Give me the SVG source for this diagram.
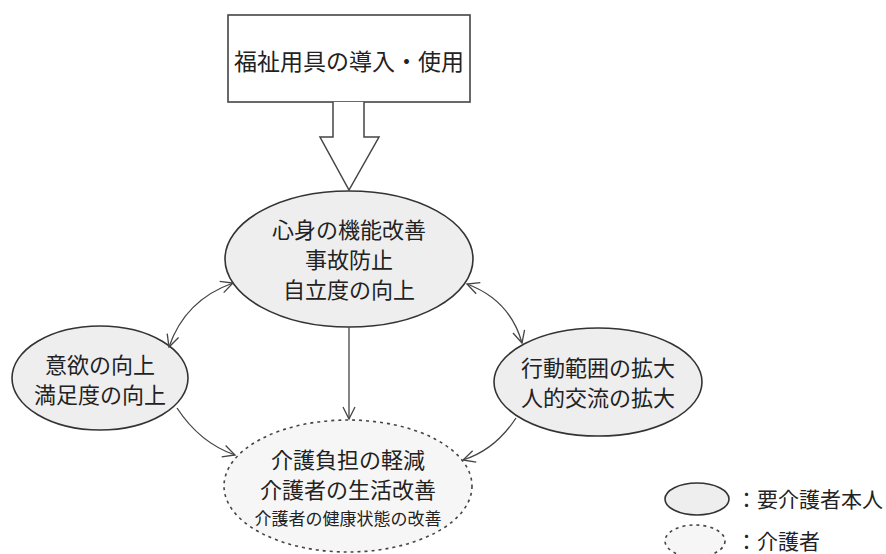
<svg xmlns="http://www.w3.org/2000/svg" width="886" height="554" viewBox="0 0 886 554">
<style>
text{font-family:"Noto Sans CJK JP","Noto Sans CJK SC",sans-serif;fill:#222;text-anchor:middle;}
.t{font-size:22px;}
.s{font-size:17px;}
.l{font-size:21px;text-anchor:end;}
.solid{fill:#eeeeee;stroke:#333;stroke-width:1.6;}
.dash{fill:#f6f6f6;stroke:#444;stroke-width:1.6;stroke-dasharray:3 4;}
.c{fill:none;stroke:#444;stroke-width:1.3;}
</style>
<defs>
<marker id="a" viewBox="0 0 14 14" refX="13" refY="7" markerWidth="14" markerHeight="14" markerUnits="userSpaceOnUse" orient="auto-start-reverse">
<path d="M1,1 L13,7 L1,13" fill="none" stroke="#444" stroke-width="1.3"/>
</marker>
</defs>
<g id="source">
<rect x="228" y="15" width="242" height="87" fill="#fff" stroke="#444" stroke-width="1.6"/>
<text class="t" x="349" y="70" style="font-size:23px">福祉用具の導入・使用</text>
</g>
<g id="bigarrow">
<path d="M333,102 L333,137 L320,137 L349,190 L379,137 L364,137 L364,102" fill="#fff" stroke="#444" stroke-width="1.5"/>
</g>
<g id="center">
<ellipse class="solid" cx="349" cy="259" rx="124" ry="68"/>
<text class="t" x="349" y="238">心身の機能改善</text>
<text class="t" x="349" y="268">事故防止</text>
<text class="t" x="349" y="298">自立度の向上</text>
</g>
<g id="left">
<ellipse class="solid" cx="100" cy="378" rx="88" ry="52"/>
<text class="t" x="100" y="373">意欲の向上</text>
<text class="t" x="100" y="403">満足度の向上</text>
</g>
<g id="right">
<ellipse class="solid" cx="598" cy="382" rx="104" ry="54"/>
<text class="t" x="598" y="376">行動範囲の拡大</text>
<text class="t" x="598" y="406">人的交流の拡大</text>
</g>
<g id="carer">
<ellipse class="dash" cx="348" cy="486" rx="124" ry="66"/>
<text class="t" x="348" y="468">介護負担の軽減</text>
<text class="t" x="348" y="498">介護者の生活改善</text>
<text class="s" x="348" y="525">介護者の健康状態の改善</text>
</g>
<g id="legend">
<ellipse class="solid" cx="697" cy="499" rx="32" ry="16"/>
<text class="l" x="883" y="507">：要介護者本人</text>
<ellipse class="dash" cx="695" cy="541" rx="30" ry="16"/>
<text class="l" x="820" y="549">：介護者</text>
</g>
<g id="connectors">
<path class="c" d="M233,283 Q185,300 169,347" marker-start="url(#a)" marker-end="url(#a)"/>
<path class="c" d="M467,284 Q510,300 522,343" marker-start="url(#a)" marker-end="url(#a)"/>
<path class="c" d="M349,327 L349,419" marker-end="url(#a)"/>
<path class="c" d="M177,408 Q200,443 235,455" marker-end="url(#a)"/>
<path class="c" d="M516,418 Q495,450 463,460" marker-end="url(#a)"/>
</g>
</svg>
